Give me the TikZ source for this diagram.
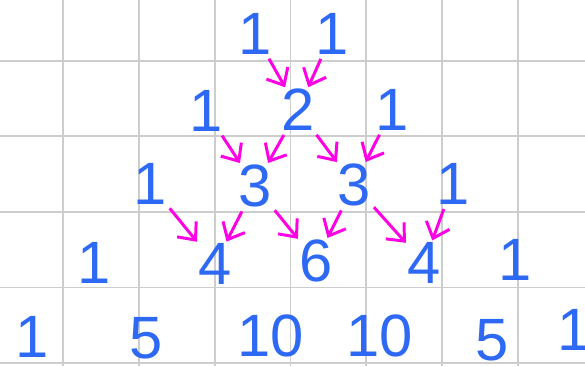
\documentclass[tikz,border=0pt]{standalone}
\usepackage{fontspec}
\setmainfont{Liberation Sans}
\usepackage{xcolor}
\usetikzlibrary{arrows.meta}
\definecolor{numblue}{RGB}{45,105,245}
\definecolor{arrowpink}{RGB}{255,0,230}
\definecolor{gridgray}{RGB}{205,205,205}

\begin{document}
\begin{tikzpicture}[x=0.02cm, y=-0.02cm,
				num/.style={text=numblue, font=\fontsize{34}{34}\selectfont, inner sep=0pt},
				gridline/.style={draw=gridgray, line width=1.1pt},
				arrow/.style={-{Straight Barb[length=8pt, width=14pt]}, line width=1.7pt, draw=arrowpink, shorten <=2.5pt, shorten >=1pt}]
				
				\useasboundingbox[fill=white] (0,0) rectangle (585,366);
				
				% grid
				\foreach \k in {0,...,6}
					\draw[gridline] ({63.4+75.7*\k},0) -- ({63.4+75.7*\k},366);
				\foreach \k in {0,...,4}
					\draw[gridline] (0,{60.7+75.6*\k}) -- (585,{60.7+75.6*\k});
				
				% rows of the triangle
				\node[num] (a1) at (255,34) {1};
				\node[num] (a2) at (332,34) {1};
				
				\node[num] (b1) at (206,111) {1};
				\node[num] (b2) at (298,110) {2};
				\node[num] (b3) at (392,110) {1};
				
				\node[num] (c1) at (150,184) {1};
				\node[num] (c2) at (255,186) {3};
				\node[num] (c3) at (354,185) {3};
				\node[num] (c4) at (453,184) {1};
				
				\node[num] (d1) at (94,263) {1};
				\node[num] (d2) at (215,264) {4};
				\node[num] (d3) at (316,261) {6};
				\node[num] (d4) at (424,263) {4};
				\node[num] (d5) at (515,260) {1};
				
				\node[num] (e1) at (32,337) {1};
				\node[num] (e2) at (146,338) {5};
				\node[num] (e3) at (271,336) {10};
				\node[num] (e4) at (380,336) {10};
				\node[num] (e5) at (492,340) {5};
				\node[num] (e6) at (574,330) {1};
				
				% sums
				\draw[arrow] (a1) -- (b2);
				\draw[arrow] (a2) -- (b2);
				\draw[arrow] (b1) -- (c2);
				\draw[arrow] (b2) -- (c2);
				\draw[arrow] (b2) -- (c3);
				\draw[arrow] (b3) -- (c3);
				\draw[arrow] (c1) -- (d2);
				\draw[arrow] (c2) -- (d2);
				\draw[arrow] (c2) -- (d3);
				\draw[arrow] (c3) -- (d3);
				\draw[arrow] (c3) -- (d4);
				\draw[arrow] (c4) -- (d4);
				
			\end{tikzpicture}
\end{document}
